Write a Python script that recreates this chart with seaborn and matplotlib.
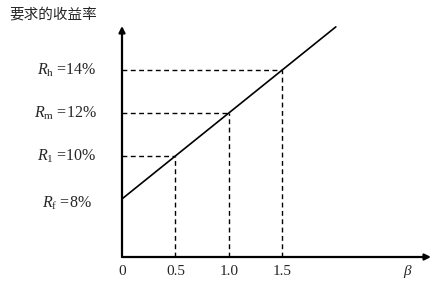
import matplotlib
matplotlib.use("Agg")
import matplotlib.pyplot as plt
import seaborn as sns
import pandas as pd
from matplotlib.transforms import offset_copy

# ---- data ----
sml_beta = [0.0, 2.0]
sml_return = [8, 16]
point_beta = [0.5, 1.0, 1.5]
point_return = [10, 12, 14]
point_labels = [r"$R_{\mathrm{1}}$ =10%", r"$R_{\mathrm{m}}$ =12%", r"$R_{\mathrm{h}}$ =14%"]
rf_value = 8
rf_label = r"$R_{\mathrm{f}}$ =8%"
xtick_values = [0.0, 0.5, 1.0, 1.5]
xtick_labels = ["0", "0.5", "1.0", "1.5"]
y_title = "要求的收益率"
x_title = r"$\beta$"

sns.set_theme(style="white")
plt.rcParams["font.family"] = ["Liberation Serif", "DejaVu Serif"]
plt.rcParams["mathtext.fontset"] = "custom"
plt.rcParams["mathtext.rm"] = "Liberation Serif"
plt.rcParams["mathtext.it"] = "Liberation Serif:italic"
plt.rcParams["mathtext.bf"] = "Liberation Serif:bold"

W, H = 432, 284
fig = plt.figure(figsize=(W / 100, H / 100), dpi=100)
ax = fig.add_axes([122 / W, (H - 257) / H, (431 - 122) / W, (257 - 26) / H])
ax.set_xlim(0, 2.89)
ax.set_ylim(5.30, 16.04)
for s in ax.spines.values():
    s.set_visible(False)
ax.set_xticks([])
ax.set_yticks([])
ax.patch.set_alpha(0)

# main line
df = pd.DataFrame({"beta": sml_beta, "ret": sml_return})
sns.lineplot(data=df, x="beta", y="ret", ax=ax, color="black", lw=1.2, clip_on=False)

# dashed guide lines
ymin = ax.get_ylim()[0]
for b, r in zip(point_beta, point_return):
    ax.plot([0, b], [r, r], ls=(0, (3.5, 2.5)), color="black", lw=1.0)
    ax.plot([b, b], [ymin, r], ls=(0, (3.5, 2.5)), color="black", lw=1.0)

# axes arrows
arrow = dict(arrowstyle="-|>", lw=1.6, color="black", mutation_scale=9, shrinkA=0, shrinkB=0)
ax.annotate("", xy=(1, 0), xytext=(0, 0), xycoords="axes fraction", arrowprops=arrow)
ax.annotate("", xy=(0, 1), xytext=(0, 0), xycoords="axes fraction", arrowprops=arrow)

# tick labels on x
xt = ax.get_xaxis_transform()
for v, lab in zip(xtick_values, xtick_labels):
    ax.text(v, -0.062, lab, transform=xt, ha="center", va="center", fontsize=11)
ax.text(0.926, -0.062, x_title, transform=ax.transAxes, ha="center", va="center", fontsize=11)

# labels on y
yt = ax.get_yaxis_transform()
for r, lab in zip(point_return, point_labels):
    ax.text(-0.081, r, lab, transform=yt, ha="right", va="center", fontsize=11.5)
ax.text(-0.097, rf_value, rf_label, transform=offset_copy(yt, fig=fig, y=-4, units="dots"),
        ha="right", va="center", fontsize=11.5)

fig.text(9 / W, 1 - 14 / H, y_title, ha="left", va="center", fontsize=10.5,
         family=["Noto Sans CJK SC", "DejaVu Sans"])

fig.savefig("out.png", dpi=100)
